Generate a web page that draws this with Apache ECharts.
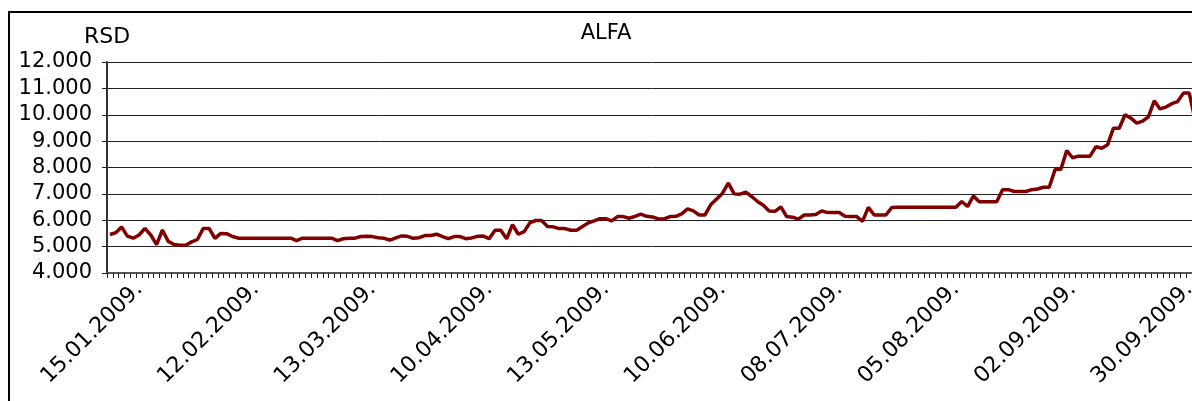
<!DOCTYPE html>
<html>
<head>
<meta charset="utf-8">
<script src="https://cdn.jsdelivr.net/npm/echarts@6/dist/echarts.min.js"></script>
<style>
html,body{margin:0;padding:0;background:#fff;overflow:hidden;width:1192px;height:401px;}
#chart{width:1210px;height:401px;}
</style>
</head>
<body>
<div id="chart"></div>
<script>
var title = 'ALFA';
var unitName = 'RSD';
var yTicks = [4000, 12000, 1000]; // min, max, interval
var dates = [
'08.01.2009.','09.01.2009.','12.01.2009.','13.01.2009.','14.01.2009.','15.01.2009.','16.01.2009.','19.01.2009.','20.01.2009.','21.01.2009.',
'22.01.2009.','23.01.2009.','26.01.2009.','27.01.2009.','28.01.2009.','29.01.2009.','30.01.2009.',
'02.02.2009.','03.02.2009.','04.02.2009.','05.02.2009.','06.02.2009.','09.02.2009.','10.02.2009.','11.02.2009.','12.02.2009.','13.02.2009.',
'17.02.2009.','18.02.2009.','19.02.2009.','20.02.2009.','23.02.2009.','24.02.2009.','25.02.2009.','26.02.2009.','27.02.2009.',
'02.03.2009.','03.03.2009.','04.03.2009.','05.03.2009.','06.03.2009.','09.03.2009.','10.03.2009.','11.03.2009.','12.03.2009.','13.03.2009.',
'16.03.2009.','17.03.2009.','18.03.2009.','19.03.2009.','20.03.2009.','23.03.2009.','24.03.2009.','25.03.2009.','26.03.2009.','27.03.2009.',
'30.03.2009.','31.03.2009.',
'01.04.2009.','02.04.2009.','03.04.2009.','06.04.2009.','07.04.2009.','08.04.2009.','09.04.2009.','10.04.2009.',
'13.04.2009.','14.04.2009.','15.04.2009.','16.04.2009.','21.04.2009.','22.04.2009.','23.04.2009.','24.04.2009.',
'27.04.2009.','28.04.2009.','29.04.2009.','30.04.2009.',
'04.05.2009.','05.05.2009.','06.05.2009.','07.05.2009.','08.05.2009.','11.05.2009.','12.05.2009.','13.05.2009.','14.05.2009.','15.05.2009.',
'18.05.2009.','19.05.2009.','20.05.2009.','21.05.2009.','22.05.2009.','25.05.2009.','26.05.2009.','27.05.2009.','28.05.2009.','29.05.2009.',
'01.06.2009.','02.06.2009.','03.06.2009.','04.06.2009.','05.06.2009.','08.06.2009.','09.06.2009.','10.06.2009.','11.06.2009.','12.06.2009.',
'15.06.2009.','16.06.2009.','17.06.2009.','18.06.2009.','19.06.2009.','22.06.2009.','23.06.2009.','24.06.2009.','25.06.2009.','26.06.2009.',
'29.06.2009.','30.06.2009.',
'01.07.2009.','02.07.2009.','03.07.2009.','06.07.2009.','07.07.2009.','08.07.2009.','09.07.2009.','10.07.2009.',
'13.07.2009.','14.07.2009.','15.07.2009.','16.07.2009.','17.07.2009.','20.07.2009.','21.07.2009.','22.07.2009.','23.07.2009.','24.07.2009.',
'27.07.2009.','28.07.2009.','29.07.2009.','30.07.2009.','31.07.2009.',
'03.08.2009.','04.08.2009.','05.08.2009.','06.08.2009.','07.08.2009.','10.08.2009.','11.08.2009.','12.08.2009.','13.08.2009.','14.08.2009.',
'17.08.2009.','18.08.2009.','19.08.2009.','20.08.2009.','21.08.2009.','24.08.2009.','25.08.2009.','26.08.2009.','27.08.2009.','28.08.2009.',
'31.08.2009.',
'01.09.2009.','02.09.2009.','03.09.2009.','04.09.2009.','07.09.2009.','08.09.2009.','09.09.2009.','10.09.2009.','11.09.2009.',
'14.09.2009.','15.09.2009.','16.09.2009.','17.09.2009.','18.09.2009.','21.09.2009.','22.09.2009.','23.09.2009.','24.09.2009.','25.09.2009.',
'28.09.2009.','29.09.2009.','30.09.2009.',
'01.10.2009.'
];
var labelDates = ['15.01.2009.','12.02.2009.','13.03.2009.','10.04.2009.','13.05.2009.','10.06.2009.','08.07.2009.','05.08.2009.','02.09.2009.','30.09.2009.'];
var prices = [
5460,5525,5745,5400,5320,5440,5690,5440,5075,5630,
5200,5080,5050,5050,5180,5270,5690,5690,5310,5500,
5490,5385,5320,5320,5320,5320,5320,5320,5320,5320,
5320,5320,5230,5320,5320,5320,5320,5320,5320,5230,
5300,5320,5320,5385,5390,5380,5340,5315,5250,5330,
5405,5390,5315,5340,5420,5420,5470,5380,5300,5380,
5380,5300,5330,5390,5400,5300,5620,5620,5300,5835,
5470,5570,5910,5990,5990,5760,5750,5685,5685,5620,
5620,5760,5900,5975,6060,6060,5975,6140,6140,6075,
6150,6230,6150,6125,6050,6050,6140,6150,6240,6430,
6355,6200,6200,6595,6810,7025,7405,7000,6990,7065,
6900,6710,6570,6355,6340,6505,6140,6115,6040,6200,
6200,6215,6355,6290,6290,6290,6150,6140,6140,5960,
6490,6200,6200,6200,6480,6490,6490,6490,6490,6490,
6490,6490,6490,6490,6490,6490,6710,6520,6920,6700,
6700,6700,6700,7160,7160,7090,7090,7090,7160,7185,
7250,7250,7920,7930,8640,8370,8430,8430,8430,8790,
8730,8860,9490,9490,10000,9870,9680,9760,9920,10530,
10220,10290,10420,10500,10820,10820,9800
];

function fmt(v){ return String(v).replace(/\B(?=(\d{3})+(?!\d))/g, '.'); }
var FONT = 'DejaVu Sans';

var chart = echarts.init(document.getElementById('chart'), null, {renderer:'canvas'});
chart.setOption({
  animation: false,
  backgroundColor: '#fff',
  title: {
    text: title, left: 601, top: 18, textAlign: 'center',
    textStyle: {fontFamily: FONT, fontSize: 21, fontWeight: 'normal', color: '#000'}
  },
  graphic: [{
    type: 'rect', shape: {x: 9, y: 12, width: 1400, height: 600},
    style: {fill: 'none', stroke: '#000', lineWidth: 2}, silent: true, z: 100
  }],
  grid: {left: 107, top: 62, width: 1091, bottom: 128, containLabel: false},
  xAxis: {
    type: 'category', data: dates, boundaryGap: true,
    axisLine: {show: true, lineStyle: {color: '#555', width: 2}},
    axisTick: {show: true, interval: 0, length: 5, lineStyle: {color: '#222', width: 1}},
    axisLabel: {
      interval: function(i, v){ return labelDates.indexOf(v) >= 0; },
      rotate: 45, margin: 13, color: '#000', fontFamily: FONT, fontSize: 22
    },
    splitLine: {show: false}
  },
  yAxis: {
    type: 'value', min: yTicks[0], max: yTicks[1], interval: yTicks[2],
    name: unitName, nameLocation: 'end', nameGap: 14,
    nameTextStyle: {fontFamily: FONT, fontSize: 22, color: '#000', align: 'center'},
    axisLine: {show: true, lineStyle: {color: '#333', width: 2}},
    axisTick: {show: true, length: 5, lineStyle: {color: '#222'}},
    axisLabel: {formatter: fmt, margin: 15, color: '#000', fontFamily: FONT, fontSize: 21},
    splitLine: {show: true, lineStyle: {color: '#222', width: 1}}
  },
  series: [{
    type: 'line', data: prices, showSymbol: false, symbol: 'none',
    lineStyle: {color: '#800000', width: 3.5}, itemStyle: {color: '#800000'}
  }]
});
</script>
</body>
</html>
